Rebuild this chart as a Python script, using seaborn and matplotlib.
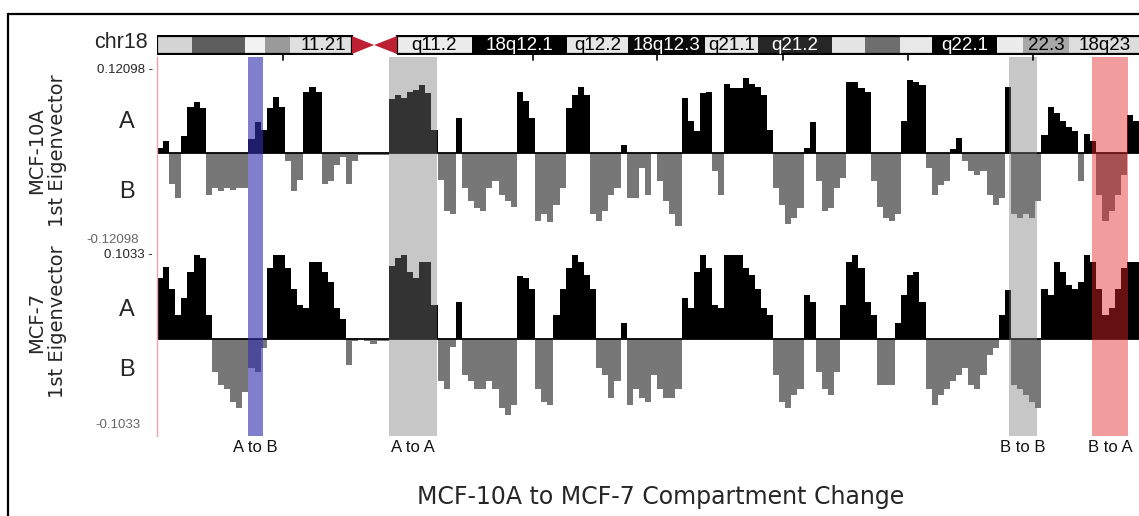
import numpy as np
import pandas as pd
import matplotlib
matplotlib.use("Agg")
import matplotlib.pyplot as plt
import matplotlib.transforms as mtransforms
from matplotlib.patches import Polygon, Rectangle
from matplotlib.lines import Line2D
import seaborn as sns

# ---------------- data ----------------
BIN_MB = 0.5
CHROM_END_MB = 80.5

# 1st eigenvector, in units of 1e-3, one value per 0.5 Mb bin along chr18
mcf10a_eig_milli = [
    6, 15, -40, -58, 22, 60, 66, 58, -55, -46,
    -50, -46, -48, -46, -46, 18, 40, 30, 58, 73,
    60, -10, -50, -35, 80, 86, 80, -40, -37, -15,
    -5, -40, -10, -2, -2, -2, -2, -2, 70, 75,
    71, 80, 82, 88, 78, 30, -35, -75, -80, 45,
    -45, -63, -72, -76, -46, -37, -55, -63, -70, 80,
    67, 45, -89, -80, -90, -68, -46, 58, 75, 86,
    75, -80, -89, -76, -55, -46, 10, -59, -59, -20,
    -55, 0, -37, -63, -80, -95, 71, 41, 28, 78,
    80, -24, -55, 90, 84, 84, 97, 90, 86, 75,
    30, -46, -68, -93, -85, -72, 6, 40, -37, -76,
    -72, -46, -33, 93, 93, 84, 80, -37, -70, -85,
    -89, -80, 41, 95, 93, 88, -20, -55, -42, -37,
    5, 20, -10, -24, -28, -24, -55, -68, -59, 86,
    -80, -85, -80, -85, -63, 23, 60, 52, 41, 34,
    28, -37, 25, 15, -55, -89, -76, -55, -28, 49,
    41,
]
mcf7_eig_milli = [
    75, 88, 62, 30, 50, 83, 103, 99, 30, -40,
    -57, -61, -77, -85, -65, -36, -40, -11, 87, 103,
    103, 87, 62, 42, 38, 95, 95, 83, 70, 38,
    25, -32, -3, 0, -2, -6, -2, -2, 90, 100,
    103, 83, 75, 95, 95, 42, -52, -61, -10, 45,
    -44, -52, -61, -61, -52, -61, -85, -93, -81, 77,
    75, 62, -61, -77, -81, 30, 62, 87, 103, 95,
    79, 62, -36, -44, -73, -52, 20, -81, -61, -73,
    -77, -44, -61, -73, -73, -61, 50, 38, 83, 103,
    87, 42, 38, 103, 103, 103, 87, 79, 62, 38,
    30, -44, -77, -85, -69, -61, 54, 46, -40, -61,
    -69, -40, 42, 95, 103, 87, 46, 30, -57, -57,
    -57, 20, 54, 79, 83, 46, -61, -81, -69, -61,
    -52, -44, -36, -57, -61, -44, -20, -11, 30, 60,
    -57, -61, -69, -77, -85, 62, 54, 95, 83, 66,
    62, 70, 103, 95, 62, 30, 38, 62, 87, 95,
    95,
]
mcf10a_lim = 0.12098
mcf7_lim = 0.1033

# compartment-change regions (Mb)
change_labels = ["A to B", "A to A", "B to B", "B to A"]
change_start_mb = [7.46, 19.02, 69.84, 76.64]
change_end_mb = [8.69, 22.95, 72.13, 79.59]
change_colors = ["#3030b0", "#7a7a7a", "#7a7a7a", "#e22626"]
change_alpha = [0.62, 0.42, 0.42, 0.45]

# ideogram bands
band_start_mb = [0, 2.87, 7.21, 8.85, 10.9, 19.67, 25.82, 33.6, 38.6, 44.9,
                 49.26, 55.33, 58.03, 60.9, 63.5, 68.9, 71.0, 74.8]
band_end_mb = [2.87, 7.21, 8.85, 10.9, 15.98, 25.82, 33.6, 38.6, 44.9, 49.26,
               55.33, 58.03, 60.9, 63.5, 68.9, 71.0, 74.8, 80.5]
band_colors = ["#d4d4d4", "#5e5e5e", "#f2f2f2", "#9a9a9a", "#e0e0e0", "#ececec",
               "#000000", "#e6e6e6", "#0a0a0a", "#e6e6e6", "#262626", "#e4e4e4",
               "#6e6e6e", "#e8e8e8", "#000000", "#ececec", "#a8a8a8", "#dddddd"]
band_labels = ["", "", "", "", "11.21", "q11.2", "18q12.1", "q12.2", "18q12.3",
               "q21.1", "q21.2", "", "", "", "q22.1", "", "22.3", "18q23"]
centromere_mb = (15.98, 17.8, 19.67)
ideogram_ticks_mb = [10.3, 30.8, 41.0, 51.3, 61.6, 71.8]

# ---------------- figure ----------------
sns.set_theme(style="white")
plt.rcParams["font.family"] = ["Liberation Sans", "DejaVu Sans"]

W, H = 1139, 516
fig = plt.figure(figsize=(W / 100, H / 100), dpi=100)
fig.patch.set_facecolor("white")


def fx(px):
    return px / W


def fy(py):
    return 1 - py / H


def rect(x0, y0, x1, y1):
    return [fx(x0), fy(y1), fx(x1) - fx(x0), (y1 - y0) / H]


X0, X1 = 157, 1139
n_bins = len(mcf10a_eig_milli)
bin_pos = np.arange(n_bins) * BIN_MB + BIN_MB / 2


def draw_track(ax, values_milli, lim):
    vals = np.asarray(values_milli, dtype=float) / 1000.0
    df = pd.DataFrame({"pos": bin_pos, "val": vals,
                       "comp": np.where(vals >= 0, "A", "B")})
    sns.barplot(data=df, x="pos", y="val", hue="comp", hue_order=["A", "B"],
                palette={"A": "#000000", "B": "#777777"}, native_scale=True,
                dodge=False, width=1.0, errorbar=None, legend=False,
                saturation=1, linewidth=0, antialiased=False, ax=ax)
    ax.axhline(0, color="black", lw=1.3, zorder=5)
    ax.set_xlim(0, CHROM_END_MB)
    ax.set_ylim(-lim, lim)
    ax.set_xlabel("")
    ax.set_ylabel("")
    ax.set_xticks([])
    ax.set_yticks([])
    for s in ax.spines.values():
        s.set_visible(False)
    ax.patch.set_alpha(0)


ax1 = fig.add_axes(rect(X0, 60, X1, 246))
draw_track(ax1, mcf10a_eig_milli, mcf10a_lim)
ax2 = fig.add_axes(rect(X0, 255, X1, 423))
draw_track(ax2, mcf7_eig_milli, mcf7_lim)

# overlay for compartment-change shading
axs = fig.add_axes(rect(X0, 57, X1, 436))
axs.set_xlim(0, CHROM_END_MB)
axs.set_ylim(0, 1)
axs.patch.set_alpha(0)
axs.set_xticks([])
axs.set_yticks([])
for k, s in axs.spines.items():
    s.set_visible(k == "left")
axs.spines["left"].set_color("#f3a0a8")
axs.spines["left"].set_linewidth(1.0)
trans = mtransforms.blended_transform_factory(axs.transData, axs.transAxes)
for lab, s0, s1, c, a in zip(change_labels, change_start_mb, change_end_mb,
                             change_colors, change_alpha):
    axs.axvspan(s0, s1, color=c, alpha=a, lw=0)
    axs.text((s0 + s1) / 2, -12 / 379, lab, transform=trans, ha="center",
             va="center", fontsize=12, color="#111111", clip_on=False)

# ideogram
axi = fig.add_axes(rect(X0, 35, X1, 55))
axi.set_xlim(0, CHROM_END_MB)
axi.set_ylim(-0.06, 1.06)
axi.axis("off")
widths = [e - s for s, e in zip(band_start_mb, band_end_mb)]
axi.barh(0.5, widths, left=band_start_mb, height=1.0, color=band_colors,
         linewidth=0)
axi.add_patch(Rectangle((0, 0), centromere_mb[0], 1, fill=False,
                        edgecolor="black", lw=1.6))
axi.add_patch(Rectangle((centromere_mb[2], 0), 70, 1, fill=False,
                        edgecolor="black", lw=1.6))
axi.add_patch(Polygon([(centromere_mb[0], 0), (centromere_mb[0], 1),
                       (centromere_mb[1], 0.5)], closed=True,
                      facecolor="#be2033", edgecolor="none"))
axi.add_patch(Polygon([(centromere_mb[2], 0), (centromere_mb[2], 1),
                       (centromere_mb[1], 0.5)], closed=True,
                      facecolor="#be2033", edgecolor="none"))
for s, e, c, lab in zip(band_start_mb, band_end_mb, band_colors, band_labels):
    if not lab:
        continue
    rgb = matplotlib.colors.to_rgb(c)
    tc = "white" if sum(rgb) / 3 < 0.45 else "black"
    if lab == "11.21":
        axi.text(e - 0.5, 0.45, lab, ha="right", va="center", fontsize=13.5,
                 color=tc)
    else:
        axi.text((s + e) / 2, 0.45, lab, ha="center", va="center",
                 fontsize=13.5, color=tc, clip_on=True)
for t in ideogram_ticks_mb:
    axi.plot([t, t], [-0.06, -0.35], color="black", lw=1.2, clip_on=False)

# left-hand texts
fig.text(fx(148), fy(42), "chr18", ha="right", va="center", fontsize=15.5)
fig.text(fx(153), fy(70), "0.12098 -", ha="right", va="center", fontsize=9.5)
fig.text(fx(139), fy(240), "-0.12098", ha="right", va="center", fontsize=9.5,
         color="#666666")
fig.text(fx(153), fy(255), "0.1033 -", ha="right", va="center", fontsize=9.5)
fig.text(fx(140), fy(425), "-0.1033", ha="right", va="center", fontsize=9.5,
         color="#666666")
for y, lab in [(122, "A"), (192, "B"), (310, "A"), (370, "B")]:
    fig.text(fx(127), fy(y), lab, ha="center", va="center", fontsize=17)
fig.text(fx(47), fy(151), "MCF-10A\n1st Eigenvector", rotation=90,
         ha="center", va="center", fontsize=14, family="DejaVu Sans",
         linespacing=1.15)
fig.text(fx(47), fy(322), "MCF-7\n1st Eigenvector", rotation=90,
         ha="center", va="center", fontsize=14, family="DejaVu Sans",
         linespacing=1.15)

fig.text(fx(661), fy(497), "MCF-10A to MCF-7 Compartment Change",
         ha="center", va="center", fontsize=17, family="DejaVu Sans")

# frame
fig.add_artist(Line2D([fx(8), 1.01], [fy(14), fy(14)],
                      transform=fig.transFigure, color="black", lw=1.6))
fig.add_artist(Line2D([fx(8), fx(8)], [fy(14), -0.01],
                      transform=fig.transFigure, color="black", lw=1.6))

fig.savefig("out.png", dpi=100, facecolor="white")
